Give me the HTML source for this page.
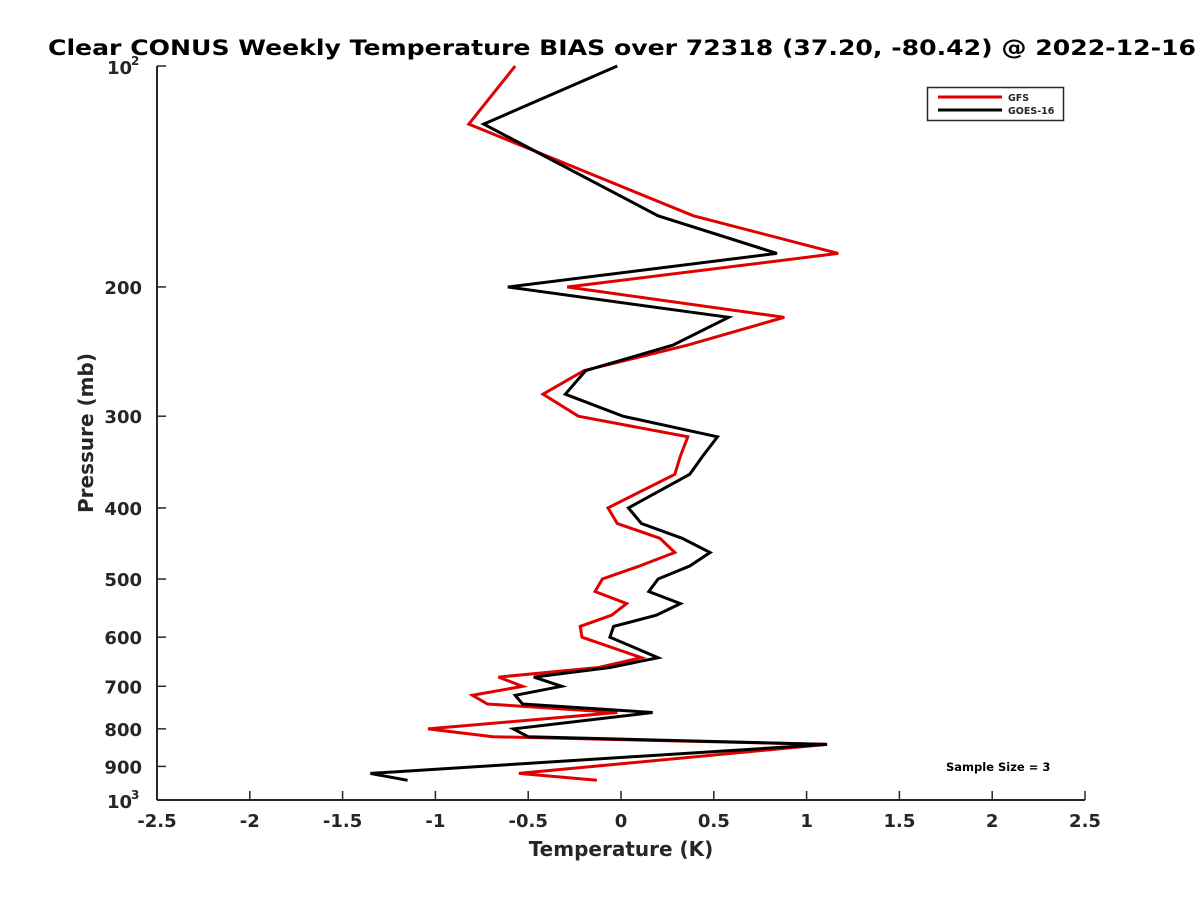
<!DOCTYPE html>
<html><head><meta charset="utf-8"><style>
body{margin:0;background:#fff;}
svg text{font-family:"DejaVu Sans","Liberation Sans",sans-serif;font-weight:bold;fill:#262626;}
</style></head><body>
<svg id="chart" width="1200" height="900" xmlns="http://www.w3.org/2000/svg">
<text x="48" y="55" font-size="21" textLength="1148" lengthAdjust="spacingAndGlyphs" style="fill:#000">Clear CONUS Weekly Temperature BIAS over 72318 (37.20, -80.42) @ 2022-12-16</text>
<g id="axes"></g>
<g id="series"></g>
<g>
<rect x="927.5" y="87.5" width="136" height="33" fill="#fff" stroke="#262626" stroke-width="1.5"/>
<line x1="938" y1="97" x2="1002" y2="97" stroke="#e00000" stroke-width="3"/>
<text x="1008" y="101" font-size="9.5">GFS</text>
<line x1="938" y1="110" x2="1002" y2="110" stroke="#000" stroke-width="3"/>
<text x="1008" y="114" font-size="9.5">GOES-16</text>
</g>
<text x="946" y="771" font-size="11.5" style="fill:#000">Sample Size = 3</text>
<text x="621" y="856" font-size="20" text-anchor="middle">Temperature (K)</text>
<text transform="translate(93,433) rotate(-90)" font-size="20" text-anchor="middle">Pressure (mb)</text>
</svg>
<script>
const levels=[100,120,160,180,200,220,240,260,280,300,320,340,360,400,420,440,460,480,500,520,540,560,580,600,640,660,680,700,720,740,760,800,820,840,920,940];
const gfsBias=[-0.57,-0.82,0.39,1.17,-0.29,0.88,0.36,-0.20,-0.42,-0.23,0.36,0.32,0.29,-0.07,-0.02,0.21,0.29,0.10,-0.10,-0.14,0.03,-0.05,-0.22,-0.21,0.11,-0.12,-0.66,-0.53,-0.80,-0.72,-0.02,-1.04,-0.69,1.11,-0.55,-0.13];
const goesBias=[-0.02,-0.74,0.20,0.84,-0.61,0.58,0.28,-0.19,-0.30,0.01,0.52,0.44,0.37,0.04,0.11,0.33,0.48,0.37,0.20,0.15,0.32,0.19,-0.04,-0.06,0.20,-0.06,-0.47,-0.32,-0.57,-0.53,0.17,-0.58,-0.50,1.11,-1.35,-1.15];
const xTicks=[-2.5,-2,-1.5,-1,-0.5,0,0.5,1,1.5,2,2.5];
const yTicks=[200,300,400,500,600,700,800,900];
const NS='http://www.w3.org/2000/svg';
const L=157,R=1085,T=66,B=800;
function xs(v){return L+(v+2.5)/5*(R-L);}
function ys(p){return T+Math.log10(p/100)*(B-T);}
function mk(tag,attrs,parent){const e=document.createElementNS(NS,tag);for(const k in attrs)e.setAttribute(k,attrs[k]);parent.appendChild(e);return e;}
const ax=document.getElementById('axes');
let e=mk('line',{x1:L,y1:T,x2:L,y2:B,stroke:'#262626','stroke-width':2},ax);


e=mk('line',{x1:L,y1:B,x2:R,y2:B,stroke:'#262626','stroke-width':2},ax);


xTicks.forEach(v=>{
 const x=xs(v);
 mk('line',{x1:x,y1:B,x2:x,y2:B-9,stroke:'#262626','stroke-width':1.5},ax);
 const t=mk('text',{x:x,y:B+27,'font-size':18,'text-anchor':'middle'},ax);
 t.textContent=String(v);
 
 
});
[100].concat(yTicks,[1000]).forEach(p=>{
 const y=ys(p);
 mk('line',{x1:L,y1:y,x2:L+9,y2:y,stroke:'#262626','stroke-width':1.5},ax);
});
yTicks.forEach(p=>{
 const t=mk('text',{x:L-15,y:ys(p)+7,'font-size':18,'text-anchor':'end'},ax);
 t.textContent=String(p);
 
 
});
[[100,'2'],[1000,'3']].forEach(([p,s])=>{
 const t=mk('text',{x:L-50,y:ys(p)+8,'font-size':18},ax);
 t.textContent='10';
 
 
 const u=mk('text',{x:L-26,y:ys(p)-1,'font-size':12},ax);
 u.textContent=s;
 
 
});
const sg=document.getElementById('series');
function line(vals,color,name){
 const pts=vals.map((v,i)=>xs(v).toFixed(1)+','+ys(levels[i]).toFixed(1)).join(' ');
 const pl=mk('polyline',{points:pts,fill:'none',stroke:color,'stroke-width':3,'stroke-linejoin':'miter'},sg);
 
 
}
line(gfsBias,'#e00000','gfs-line');
line(goesBias,'#000000','goes16-line');
</script>
</body></html>
